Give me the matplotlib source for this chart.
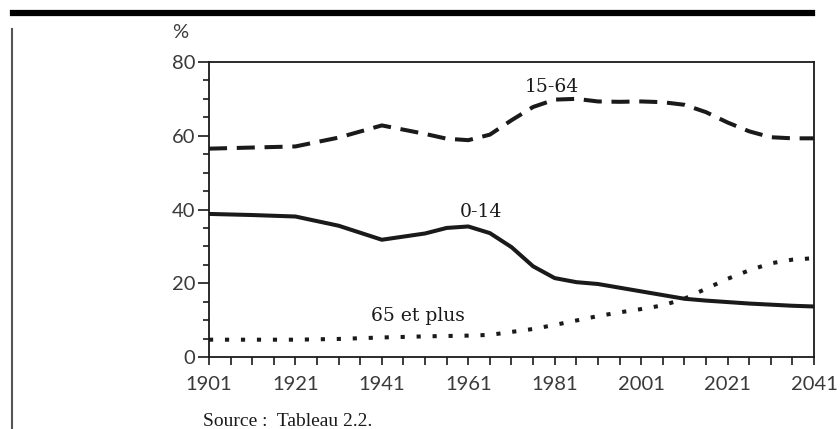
import matplotlib
matplotlib.use('Agg')
import matplotlib.pyplot as plt
from matplotlib.lines import Line2D
import matplotlib.ticker as ticker

# Années de recensement et projections
years = [1901, 1911, 1921, 1931, 1941, 1951, 1956, 1961, 1966, 1971, 1976, 1981,
         1986, 1991, 1996, 2001, 2006, 2011, 2016, 2021, 2026, 2031, 2036, 2041]

age_0_14 = [38.8, 38.5, 38.1, 35.6, 31.8, 33.5, 35.0, 35.4, 33.6, 29.8, 24.6, 21.4,
            20.3, 19.8, 18.8, 17.8, 16.8, 15.8, 15.3, 14.9, 14.5, 14.2, 13.9, 13.7]

age_15_64 = [56.5, 56.8, 57.1, 59.5, 62.8, 60.5, 59.2, 58.8, 60.3, 64.2, 67.8, 69.8,
             70.0, 69.3, 69.2, 69.3, 69.1, 68.4, 66.4, 63.6, 61.2, 59.6, 59.3, 59.3]

age_65_plus = [4.7, 4.7, 4.7, 4.9, 5.3, 5.6, 5.7, 5.8, 6.0, 6.8, 7.6, 8.7,
               9.9, 11.1, 12.1, 13.0, 14.0, 15.8, 18.5, 21.2, 23.5, 25.4, 26.4, 26.8]

series_labels = ['0-14', '15-64', '65 et plus']

ink = '#1a1a1a'
tick_col = '#3a3a3a'

plt.rcParams['lines.scale_dashes'] = False

fig = plt.figure(figsize=(8.4, 4.29), dpi=100)
ax = fig.add_axes([0.2488, 0.1678, 0.7202, 0.6877])

ax.plot(years, age_0_14, color=ink, linewidth=2.9, solid_joinstyle='round')
ax.plot(years, age_15_64, color=ink, linewidth=2.9, dashes=(13, 7), dash_capstyle='butt')
ax.plot(years, age_65_plus, color=ink, linewidth=2.9, dashes=(3, 8.5), dash_capstyle='butt')

ax.set_xlim(1901, 2041)
ax.set_ylim(0, 80)

ax.xaxis.set_major_locator(ticker.FixedLocator(range(1901, 2042, 20)))
ax.xaxis.set_minor_locator(ticker.FixedLocator(range(1901, 2042, 5)))
ax.yaxis.set_major_locator(ticker.MultipleLocator(20))
ax.yaxis.set_minor_locator(ticker.MultipleLocator(5))

ax.tick_params(axis='x', which='both', direction='out', length=6, width=1.2,
               color=ink, labelsize=14.5, labelcolor=tick_col, pad=8)
ax.tick_params(axis='y', which='major', direction='out', length=8, width=1.2,
               color=ink, labelsize=14.5, labelcolor=tick_col, pad=2)
ax.tick_params(axis='y', which='minor', direction='out', length=4, width=1.2, color=ink)

for lab in ax.get_xticklabels() + ax.get_yticklabels():
    lab.set_fontfamily('Lato')

for s in ax.spines.values():
    s.set_linewidth(1.3)
    s.set_color(ink)

# étiquettes des séries
lab_font = dict(fontsize=13.5, family='DejaVu Serif', color=ink, ha='center', va='center')
ax.text(1963.9, 39.3, series_labels[0], **lab_font)
ax.text(1980.4, 73.2, series_labels[1], **lab_font)
ax.text(1949.4, 11.1, series_labels[2], **lab_font)

fig.text(0.214, 0.925, '%', ha='center', va='center', fontsize=14.5,
         family='Lato', color=tick_col)
fig.text(203 / 840, 2.5 / 429, 'Source :  Tableau 2.2.', ha='left', va='baseline',
         fontsize=14, family='Liberation Serif', color=ink)

# barre du haut et filet gauche
fig.add_artist(Line2D([13 / 840, 812 / 840], [1 - 13 / 429, 1 - 13 / 429],
                      transform=fig.transFigure, color='black', linewidth=4.5))
fig.add_artist(Line2D([12 / 840, 12 / 840], [1 - 29 / 429, 0],
                      transform=fig.transFigure, color='#555555', linewidth=1.5))

fig.savefig('out.png', dpi=100)
